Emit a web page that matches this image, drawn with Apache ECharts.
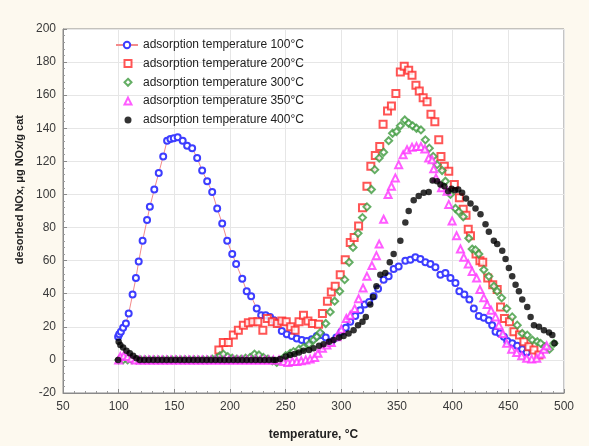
<!DOCTYPE html>
<html>
<head>
<meta charset="utf-8">
<script src="https://cdn.jsdelivr.net/npm/echarts@6/dist/echarts.min.js"></script>
<style>
html,body{margin:0;padding:0;background:#fdf9ef;}
#chart{width:589px;height:446px;}
</style>
</head>
<body>
<div id="chart"></div>
<script>
// ---- data (temperature °C, desorbed NOx µg/g cat) ----
const seriesNames = [
  'adsorption temperature 100°C',
  'adsorption temperature 200°C',
  'adsorption temperature 300°C',
  'adsorption temperature 350°C',
  'adsorption temperature 400°C'
];
const xTicks = [50, 100, 150, 200, 250, 300, 350, 400, 450, 500];
const yTicks = [-20, 0, 20, 40, 60, 80, 100, 120, 140, 160, 180, 200];
const xTitle = 'temperature, °C';
const yTitle = 'desorbed NOx, μg NOx/g cat';

const s100 = [[99.5,14],[100.5,15.5],[102,17],[104,19.5],[106.5,22],[109,28],[112.5,39.5],[115.5,49.5],[118,59.5],[121.5,72],[125.5,84.5],[128,92.5],[132,103],[136,113],[140,123],[143.5,132.5],[146.5,133.5],[149.5,134],[153,134.5],[157.5,132.5],[161.5,129.5],[166,128],[170.5,122],[175,114.5],[179.5,108],[184,101.5],[188.5,91.5],[193,82.5],[197.5,72],[202,64],[205.5,58],[211,49],[215,41.5],[219,38.5],[224,31],[228,27],[232,27],[236,26],[239.5,24],[242.5,22],[246.5,17.5],[251,15.5],[255.5,14.5],[260,13],[264.5,12],[269,11.5],[273.5,12.5],[278,14.5],[282,15],[286,13.5],[291,11],[295.5,13.5],[300,17],[304,19.5],[308,23],[312.5,26.5],[317,30],[321,33.5],[325,35],[329,38.5],[333,43],[338,48.5],[342.5,50.5],[347,55],[351.5,56.5],[357.5,60],[362,60.5],[366.5,62],[371,61],[375.5,59],[380,58],[384.5,56],[389,51.5],[393.5,52.5],[398,49.5],[402.5,46.5],[406,41.5],[410.5,39.5],[415,36.5],[419,31],[423.5,26.5],[428,25.5],[432.5,24],[435.5,21],[438.5,17],[442.5,16],[446,14],[449,11.5],[453.5,10],[458,8.5],[462.5,6.5],[466.5,4.5]];

const s200 = [[190,6],[194,10.5],[198.5,10.5],[203,15],[207.5,18],[212,21],[216.5,22.5],[220.5,23],[225,23],[229.5,18],[233.5,25],[238,23],[242.5,22],[246.5,23.5],[250.5,23],[254.5,20],[258.5,18],[262,23],[266,27],[270,23.5],[274,22],[279.5,21.5],[283,28],[287.5,35.5],[291,41],[294.5,44.5],[299,51.5],[303.5,60.5],[308,71],[311.5,74],[315.5,81],[319,92],[323,105],[326.5,117],[330.5,123.5],[334.5,129],[337.5,142.5],[341.5,150.5],[345,153.5],[349,161],[353,174],[356.5,177.5],[360.5,175],[363.5,172],[367,166],[370,162.5],[373.5,158.5],[377,156],[380.5,148.5],[384,144],[387.5,133],[389.5,123],[392.5,117],[396.5,114],[401.5,106],[406,98],[409.5,91],[412,87.5],[414,79],[416,75],[421,64],[424.5,60],[427,59],[431.5,49.5],[436,45.5],[440,42.5],[443,32],[446.5,25],[451,23],[455,17],[460,15],[464,11],[468.5,8],[473,6],[477.5,3]];

const s300 = [[100,0],[104,0],[108,0],[112,0],[116,0],[120,0],[124,0],[128,0],[132,0],[136,0],[140,0],[144,0],[148,0],[152,0],[156,0],[160,0],[164,0],[168,0],[172,0],[176,0],[180,0],[184,0.5],[188,1],[191,2.5],[194,3.5],[198,2],[202,1],[206,0.5],[210,0.5],[214,1],[218,1.5],[222,3.5],[226,3],[230,1.5],[234,0.5],[238,-0.5],[242,-1.5],[246,0],[250,2.5],[254,4],[257,5],[262,6.5],[266,7.5],[271,9.5],[275,12],[278,14],[281,16.5],[286,22],[290,29],[294,35.5],[298.5,41.5],[303,48.5],[307,59],[310.5,68],[315,76.5],[319,86],[323,92.5],[327,103],[330,115],[334,122],[338,125.5],[342.5,132.5],[346,137],[349.5,138],[353,141.5],[357,145],[360.5,143],[364,141.5],[367.5,140],[371.5,139],[375.5,133],[379,128],[382.5,123],[386,118],[390.5,114.5],[393.5,108],[398,100],[402.5,91.5],[405.5,89.5],[409.5,86.5],[414.5,73.5],[417.5,67],[420.5,66.5],[423.5,64],[428,54.5],[432.5,50.5],[437,44.5],[440,41.5],[444,37.5],[448.5,31],[453.5,26],[458,21],[462.5,16],[467,15],[471.5,12],[476,11],[479,10],[483,8],[487,6.5],[491,10]];

const s350 = [[100,0],[101.5,2],[104.5,2.5],[108,2],[111.5,1],[115,0],[119,0],[123,0],[127,0],[131,0],[135,0],[139,0],[143,0],[147,0],[151,0],[155,0],[159,0],[163,0],[167,0],[171,0],[175,0],[179,0],[183,0],[187,0],[191,0],[195,0],[199,0],[203,0],[207,0],[211,0],[215,0],[219,0],[223,0],[227,0],[231,0],[235,0],[239,0],[244,0],[248,-1],[252,-1.5],[256,-1],[260,-1],[264,-0.5],[268,0],[272,0.5],[276,1.5],[279,4],[283,7],[287,9],[291,10.5],[296,14],[300,18.5],[304.5,25],[308,27],[312,31],[315.5,37],[319.5,43.5],[323,50.5],[327.5,57],[331.5,63],[334,70],[338,85],[342,100],[345,105],[348.5,110],[351.5,118],[355.5,124],[359,127],[363.5,128.5],[367.5,129],[371.5,129],[375,127.5],[378.5,122],[381.5,121],[383,115.5],[385,110],[390,104],[395,102],[396.5,94],[399.5,84],[403.5,75],[407,67],[410,62],[414,58],[417.5,53.5],[421.5,49.5],[424.5,42.5],[428,37.5],[431,33.5],[434.5,30],[438.5,26],[441.5,21],[445,16],[448.5,10],[453,6.5],[457.5,4.5],[462,2.5],[466.5,1],[471,0.5],[475.5,1],[479.5,3.5],[482,6.5],[484.5,8.5]];

const s400 = [[99.5,0],[100,11],[101.5,9],[104,7.5],[107,5.5],[110,4],[113,2.5],[116,1],[119,0],[123,0],[127,0],[131,0],[135,0],[139,0],[143,0],[147,0],[151,0],[155,0],[159,0],[163,0],[167,0],[171,0],[175,0],[179,0],[183,0],[187,0],[191,0],[195,0],[199,0],[203,0],[207,0],[211,0],[215,0],[219,0],[223,0],[227,0],[231,0],[235,0],[239,0],[241,0],[245,0.5],[250,2],[254,3],[258,3.5],[262,4.5],[266,5.5],[271,6],[275,7],[280,8.5],[284,9.5],[289,11],[293,12],[298,13.5],[302,14.5],[306.5,16],[311,18],[315,21],[319,23],[322,26],[326,33.5],[328.5,38],[331.5,44.5],[335,51.5],[339.5,52.5],[343.5,59],[347,64],[353,72],[357.5,83],[360.5,90],[365,96.5],[369.5,99],[374,101],[378.5,101.5],[382,108.5],[386,108],[389,106],[392.5,105],[396,102],[399,103.5],[402,102.5],[405,103],[408.5,101],[412,97.5],[416,94.5],[420.5,91.5],[425,88],[429.5,82],[432.5,77.5],[437,72],[440,70],[444.5,66],[447.5,61],[450.5,55.5],[453.5,50.5],[456.5,45.5],[459.5,41.5],[462.5,36.5],[467,32],[470,26],[473,21],[477.5,20],[482,18],[486.5,16.5],[489.5,15],[491.5,10]];

const chart = echarts.init(document.getElementById('chart'), null, {renderer: 'canvas'});
const font = 'Liberation Sans, Arial, sans-serif';

const axisCommon = {
  axisLine: {show: true, onZero: false, lineStyle: {color: '#8a8a8a', width: 1}},
  axisTick: {show: true, inside: true, length: 4, lineStyle: {color: '#8a8a8a'}},
  minorTick: {show: true, splitNumber: 5, length: 2, lineStyle: {color: '#9a9a9a'}},
  splitLine: {show: true, lineStyle: {color: '#e6e6e6', width: 1}},
  axisLabel: {color: '#3a3a3a', fontSize: 12, fontFamily: font}
};
const legendText = {fontSize: 12, color: '#222', fontFamily: font};

chart.setOption({
  backgroundColor: '#fdf9ef',
  animation: false,
  textStyle: {fontFamily: font},
  grid: {left: 63, right: 25, top: 29, bottom: 43, show: true, backgroundColor: '#ffffff', borderColor: '#8a8a8a', borderWidth: 1},
  xAxis: Object.assign({}, axisCommon, {
    type: 'value', min: xTicks[0], max: xTicks[xTicks.length - 1], interval: 50,
    name: xTitle, nameLocation: 'middle', nameGap: 36,
    nameTextStyle: {fontWeight: 'bold', fontSize: 12, color: '#222', fontFamily: font},
    axisLabel: Object.assign({}, axisCommon.axisLabel, {margin: 8})
  }),
  yAxis: Object.assign({}, axisCommon, {
    type: 'value', min: yTicks[0], max: yTicks[yTicks.length - 1], interval: 20,
    axisLabel: Object.assign({}, axisCommon.axisLabel, {margin: 7})
  }),
  graphic: [{
    type: 'text', left: 14, top: 115, rotation: Math.PI / 2,
    style: {text: yTitle, font: 'bold 11px ' + font, fill: '#222'}
  }],
  legend: [
    {
      orient: 'vertical', left: 110, top: 34, itemWidth: 22, itemHeight: 8, itemGap: 7,
      textStyle: legendText, data: [seriesNames[0]]
    },
    {
      orient: 'vertical', left: 118.5, top: 52.5, itemWidth: 7, itemHeight: 7, itemGap: 6.8,
      textStyle: Object.assign({}, legendText, {padding: [0, 0, 0, 6.5]}),
      data: seriesNames.slice(1)
    }
  ],
  series: [
    {name: seriesNames[0], type: 'line', data: s100, symbol: 'emptyCircle', symbolSize: 6,
     itemStyle: {color: '#3d3dff', borderWidth: 1.4},
     lineStyle: {color: '#f48a8a', width: 1}, z: 2},
    {name: seriesNames[1], type: 'scatter', data: s200, symbol: 'emptyRect', symbolSize: 7,
     itemStyle: {color: '#ff2a2a', borderWidth: 1.4}, z: 3},
    {name: seriesNames[2], type: 'scatter', data: s300, symbol: 'emptyDiamond', symbolSize: 7,
     itemStyle: {color: '#3d9a3d', borderWidth: 1.4}, z: 3},
    {name: seriesNames[3], type: 'scatter', data: s350, symbol: 'emptyTriangle', symbolSize: 7,
     itemStyle: {color: '#ff33ff', borderWidth: 1.4}, z: 3},
    {name: seriesNames[4], type: 'scatter', data: s400, symbol: 'circle', symbolSize: 6.5,
     itemStyle: {color: '#000000'}, z: 4}
  ]
});
</script>
</body>
</html>
